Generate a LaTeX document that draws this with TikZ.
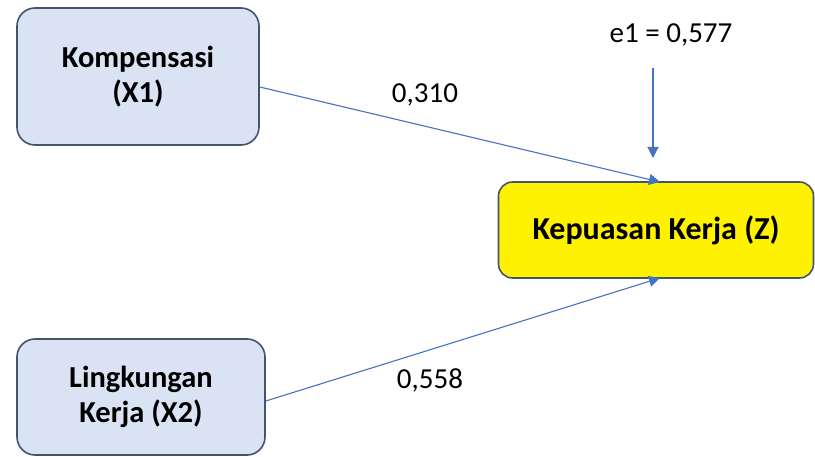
\documentclass[tikz,border=0pt]{standalone}
\usepackage{fontspec}
\setmainfont{Carlito}
\usetikzlibrary{arrows.meta}
\definecolor{boxblue}{HTML}{DAE3F3}
\definecolor{boxedge}{HTML}{44546A}
\definecolor{arrowblue}{HTML}{4472C4}
\begin{document}
\begin{tikzpicture}[x=1pt,y=-1pt,
  varbox/.style={draw=boxedge, line width=1.6pt, rounded corners=18pt, fill=boxblue,
    align=center, font=\fontsize{30.5}{35}\selectfont\bfseries, inner sep=0pt},
  zbox/.style={draw=boxedge, line width=1.6pt, rounded corners=14pt, fill=yellow,
    align=center, font=\fontsize{32}{36}\selectfont\bfseries, inner sep=0pt},
  conn/.style={draw=arrowblue, line width=1.1pt, -{Triangle[length=11pt,width=11pt]}},
  lbl/.style={font=\fontsize{29}{34}\selectfont, inner sep=0pt}]
\useasboundingbox (0,0) rectangle (815,457);
\node[varbox, minimum width=242pt, minimum height=137pt] (x1) at (138,76.5) {Kompensasi\\(X1)};
\node[varbox, minimum width=248pt, minimum height=116pt] (x2) at (141,397) {Lingkungan\\Kerja (X2)};
\node[zbox, minimum width=315pt, minimum height=96pt] (z) at (656,230) {Kepuasan Kerja (Z)};
\node[lbl] (e1) at (671,35) {e1 = 0,577};
\coordinate (e1s) at (653,68);
\coordinate (e1e) at (653,158);
\coordinate (zt) at (660,182);
\coordinate (zb) at (660,278);
\draw[conn] (x1.east |- 0,87) -- (zt);
\draw[conn] (x2.east |- 0,401) -- (zb);
\draw[conn] (e1s) -- (e1e);
\node[lbl] (l1) at (425,95) {0,310};
\node[lbl] (l2) at (430,380) {0,558};
\end{tikzpicture}
\end{document}
